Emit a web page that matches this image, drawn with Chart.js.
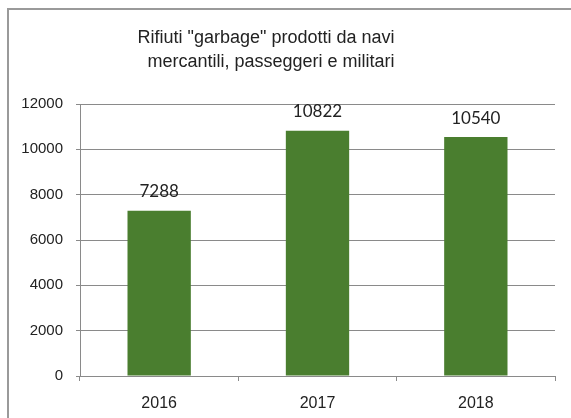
<!DOCTYPE html>
<html>
<head>
<meta charset="utf-8">
<script src="https://cdn.jsdelivr.net/npm/chart.js@4.4.1/dist/chart.umd.min.js"></script>
<style>
  html, body { margin: 0; padding: 0; background: #fff; overflow: hidden; }
  #wrap { position: relative; width: 571px; height: 418px; overflow: hidden; }
  canvas { position: absolute; left: 0; top: 0; }
</style>
</head>
<body>
<div id="wrap">
  <canvas id="c" width="571" height="418"></canvas>
</div>
<script>
const categories = ['2016', '2017', '2018'];
const values = [7288, 10822, 10540];
const titleLines = ['Rifiuti "garbage" prodotti da navi', 'mercantili, passeggeri e militari'];
const yTicks = [0, 2000, 4000, 6000, 8000, 10000, 12000];

const framePlugin = {
  id: 'frame',
  beforeDraw(chart) {
    const ctx = chart.ctx;
    ctx.save();
    ctx.strokeStyle = '#9a9a9a';
    ctx.lineWidth = 2;
    ctx.beginPath();
    ctx.moveTo(8, chart.height + 2);
    ctx.lineTo(8, 9);
    ctx.lineTo(chart.width + 2, 9);
    ctx.stroke();
    ctx.restore();
  }
};

const titlePlugin = {
  id: 'customTitle',
  afterDraw(chart) {
    const ctx = chart.ctx;
    ctx.save();
    ctx.font = '18px "Liberation Sans", Arial, sans-serif';
    ctx.fillStyle = '#222';
    ctx.textAlign = 'center';
    ctx.textBaseline = 'middle';
    ctx.fillText(titleLines[0], 266, 38);
    ctx.fillText(titleLines[1], 271, 62);
    ctx.restore();
  }
};

const valueLabels = {
  id: 'valueLabels',
  afterDatasetsDraw(chart) {
    const ctx = chart.ctx;
    ctx.save();
    ctx.font = '17px Lato, "Open Sans", sans-serif';
    ctx.fillStyle = '#222';
    ctx.textAlign = 'center';
    ctx.textBaseline = 'middle';
    chart.getDatasetMeta(0).data.forEach((bar, i) => {
      ctx.fillText(String(values[i]), bar.x, bar.y - 19);
    });
    ctx.restore();
  }
};

new Chart(document.getElementById('c'), {
  type: 'bar',
  data: {
    labels: categories,
    datasets: [{
      data: values,
      backgroundColor: '#4a7e2f',
      borderWidth: 0,
      categoryPercentage: 1,
      barPercentage: 0.4
    }]
  },
  options: {
    responsive: false,
    animation: false,
    layout: { padding: { top: 104, right: 16, left: 0, bottom: 0 } },
    plugins: { legend: { display: false }, title: { display: false }, tooltip: { enabled: false } },
    scales: {
      x: {
        grid: { display: true, drawOnChartArea: false, drawTicks: true, tickLength: 5, offset: true, color: '#8a8a8a' },
        border: { display: true, color: '#8a8a8a', width: 1 },
        ticks: { color: '#222', font: { family: '"Liberation Sans", Arial, sans-serif', size: 16 }, padding: 13 },
        afterFit(scale) { scale.height = 42; }
      },
      y: {
        min: 0, max: 12000,
        afterBuildTicks(scale) { scale.ticks = yTicks.map(v => ({ value: v })); },
        grid: { color: '#8a8a8a', tickLength: 4, drawTicks: true },
        border: { display: true, color: '#8a8a8a', width: 1 },
        ticks: { color: '#222', font: { family: '"Liberation Sans", Arial, sans-serif', size: 15 }, padding: 13, callback: (v) => String(v) },
        afterFit(scale) { scale.width = 80; }
      }
    }
  },
  plugins: [framePlugin, titlePlugin, valueLabels]
});
</script>
</body>
</html>
